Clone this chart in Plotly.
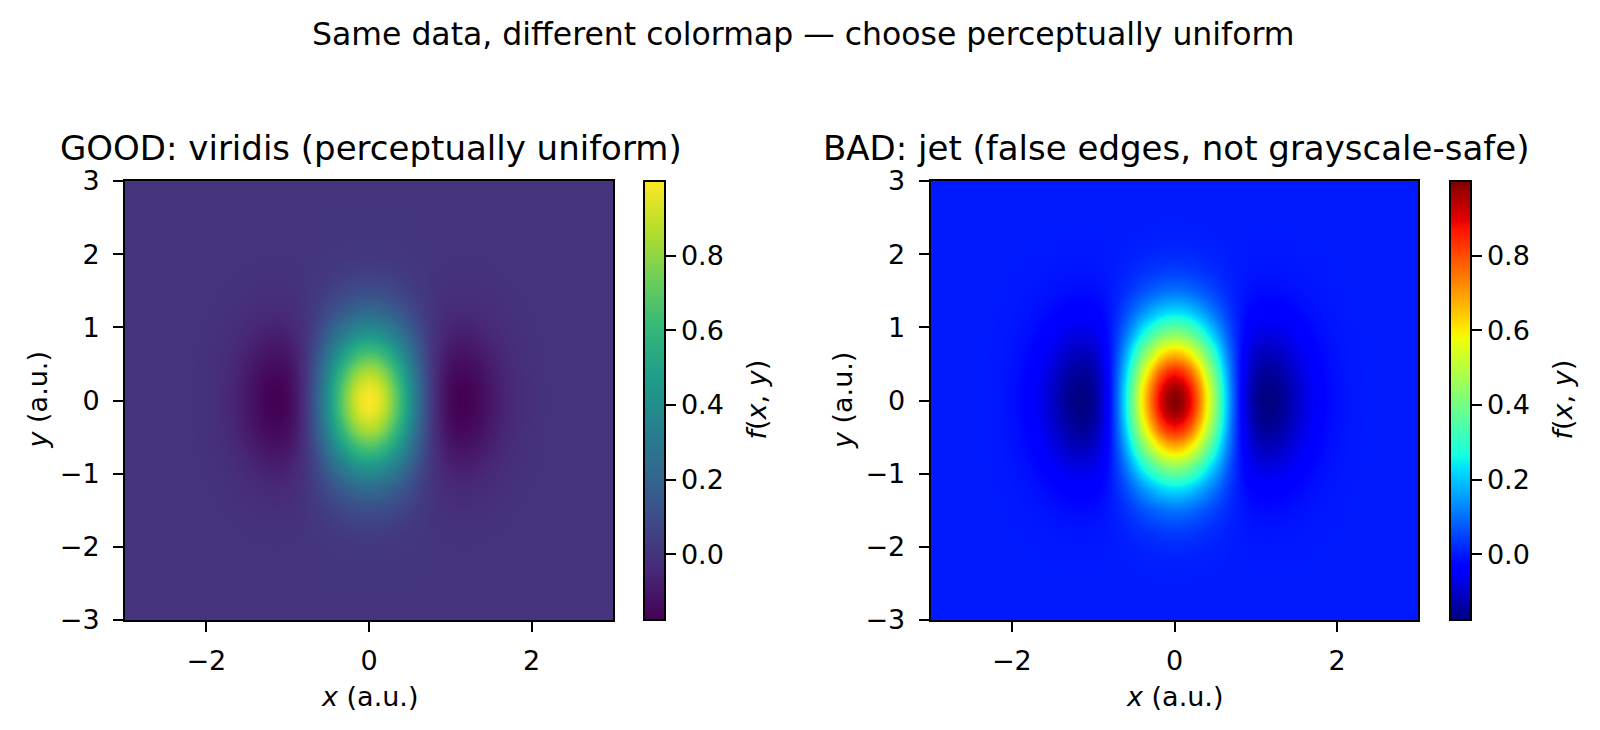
import numpy as np
import plotly.graph_objects as go

# ---------------- data ----------------
# sampling positions of the field (a.u.)
x_grid = [round(-3.0 + 0.1 * i, 1) for i in range(61)]
y_grid = [round(-3.0 + 0.1 * i, 1) for i in range(61)]

# profile of f along x at y = 0 (x = -3.0 ... 3.0)
profile_x = [
    0.000, 0.000, 0.000, 0.000, 0.000, 0.000, 0.000, -0.001, -0.002, -0.006,
    -0.012, -0.021, -0.035, -0.054, -0.077, -0.104, -0.133, -0.158, -0.175, -0.176,
    -0.153, -0.101, -0.015, 0.104, 0.253, 0.421, 0.594, 0.754, 0.885, 0.970,
    1.000,
    0.970, 0.885, 0.754, 0.594, 0.421, 0.253, 0.104, -0.015, -0.101, -0.153,
    -0.176, -0.175, -0.158, -0.133, -0.104, -0.077, -0.054, -0.035, -0.021, -0.012,
    -0.006, -0.002, -0.001, 0.000, 0.000, 0.000, 0.000, 0.000, 0.000, 0.000,
]
# relative envelope of f along y at x = 0 (y = -3.0 ... 3.0)
profile_y = [
    0.000, 0.000, 0.000, 0.001, 0.001, 0.002, 0.003, 0.005, 0.008, 0.012,
    0.018, 0.027, 0.039, 0.056, 0.077, 0.105, 0.141, 0.185, 0.237, 0.298,
    0.368, 0.445, 0.527, 0.613, 0.698, 0.779, 0.852, 0.914, 0.961, 0.990,
    1.000,
    0.990, 0.961, 0.914, 0.852, 0.779, 0.698, 0.613, 0.527, 0.445, 0.368,
    0.298, 0.237, 0.185, 0.141, 0.105, 0.077, 0.056, 0.039, 0.027, 0.018,
    0.012, 0.008, 0.005, 0.003, 0.002, 0.001, 0.001, 0.000, 0.000, 0.000,
]

axis_ticks = [-2, 0, 2]
axis_ticktext = ["\u22122", "0", "2"]
yaxis_ticks = [-3, -2, -1, 0, 1, 2, 3]
yaxis_ticktext = ["\u22123", "\u22122", "\u22121", "0", "1", "2", "3"]
cbar_ticks = [0.0, 0.2, 0.4, 0.6, 0.8]
cbar_ticktext = ["0.0", "0.2", "0.4", "0.6", "0.8"]

suptitle = "Same data, different colormap \u2014 choose perceptually uniform"
titles = ["GOOD: viridis (perceptually uniform)", "BAD: jet (false edges, not grayscale-safe)"]

# field table built from the two read profiles
z = np.outer(np.array(profile_y), np.array(profile_x))
zmin, zmax = float(z.min()), float(z.max())

# matplotlib 'jet'
jet = [
    [0.0, "rgb(0,0,128)"], [0.11, "rgb(0,0,255)"], [0.125, "rgb(0,0,255)"],
    [0.34, "rgb(0,219,255)"], [0.35, "rgb(0,230,247)"], [0.375, "rgb(21,255,226)"],
    [0.64, "rgb(239,255,8)"], [0.65, "rgb(247,245,0)"], [0.66, "rgb(255,236,0)"],
    [0.89, "rgb(255,19,0)"], [0.91, "rgb(232,0,0)"], [1.0, "rgb(128,0,0)"],
]

W, H = 1600, 730
FONT = "DejaVu Sans"
TICK = 27

def px(v):
    return v / W

def py(v):
    return 1 - v / H

ax_top, ax_bot = 181, 620
left_ax = (125, 613)
right_ax = (930.6, 1418.4)
cbar_x = [643.5, 1449.5]

fig = go.Figure()

for i, (cs, xa, ya) in enumerate([("Viridis", "x", "y"), (jet, "x2", "y2")]):
    fig.add_trace(go.Heatmap(
        x=x_grid, y=y_grid, z=z, colorscale=cs, zmin=zmin, zmax=zmax,
        zsmooth="best", xaxis=xa, yaxis=ya, showscale=True,
        colorbar=dict(
            x=px(cbar_x[i]), xanchor="left", xpad=0, ypad=0,
            y=py((ax_top + ax_bot) / 2), yanchor="middle",
            len=ax_bot - ax_top, lenmode="pixels",
            thickness=21, outlinewidth=2, outlinecolor="black",
            ticks="outside", ticklen=10, tickwidth=2, tickcolor="black",
            tickvals=cbar_ticks, ticktext=cbar_ticktext, tickprefix="\u2009",
            tickfont=dict(family=FONT, size=TICK, color="black"),
        ),
    ))

axis_common = dict(
    range=[-3, 3], showline=True, mirror=True, linecolor="black", linewidth=2,
    ticks="outside", ticklen=10, tickwidth=2, tickcolor="black",
    showgrid=False, zeroline=False, automargin=False,
    tickfont=dict(family=FONT, size=TICK, color="black"),
)

fig.update_layout(
    width=W, height=H,
    margin=dict(l=0, r=0, t=0, b=0, autoexpand=False),
    paper_bgcolor="white", plot_bgcolor="white",
    font=dict(family=FONT, color="black"),
    xaxis=dict(domain=[px(left_ax[0]), px(left_ax[1])], anchor="y",
               tickvals=axis_ticks, ticktext=axis_ticktext, ticklabelstandoff=6, **axis_common),
    yaxis=dict(domain=[py(ax_bot), py(ax_top)], anchor="x",
               tickvals=yaxis_ticks, ticktext=yaxis_ticktext, ticklabelstandoff=8, **axis_common),
    xaxis2=dict(domain=[px(right_ax[0]), px(right_ax[1])], anchor="y2",
                tickvals=axis_ticks, ticktext=axis_ticktext, ticklabelstandoff=6, **axis_common),
    yaxis2=dict(domain=[py(ax_bot), py(ax_top)], anchor="x2",
                tickvals=yaxis_ticks, ticktext=yaxis_ticktext, ticklabelstandoff=8, **axis_common),
)

ann = []
ann.append(dict(text=suptitle, x=px(804), y=py(34), font=dict(size=31.5)))
ann.append(dict(text=titles[0], x=px(371), y=py(148), font=dict(size=34)))
ann.append(dict(text=titles[1], x=px(1176), y=py(148), font=dict(size=34)))
for cx in [(left_ax[0] + left_ax[1]) / 2, (right_ax[0] + right_ax[1]) / 2]:
    ann.append(dict(text="<i>x</i> (a.u.)", x=px(cx), y=py(696), font=dict(size=TICK)))
for cx in [37, 37 + right_ax[0] - left_ax[0]]:
    ann.append(dict(text="<i>y</i> (a.u.)", x=px(cx), y=py(400.5), textangle=-90, font=dict(size=TICK)))
for cx in [755.5, 1561.5]:
    ann.append(dict(text="<i>f</i>(<i>x</i>, <i>y</i>)", x=px(cx), y=py(400), textangle=-90,
                    font=dict(size=TICK)))
for a in ann:
    a.update(xref="paper", yref="paper", xanchor="center", yanchor="middle", showarrow=False)
    a["font"].update(family=FONT, color="black")
fig.update_layout(annotations=ann)

fig.write_html("out.html")
